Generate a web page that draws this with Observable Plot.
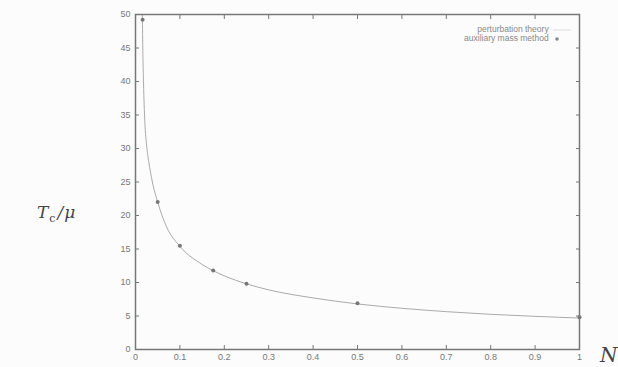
<!DOCTYPE html>
<html>
<head>
<meta charset="utf-8">
<script src="https://cdn.jsdelivr.net/npm/d3@7"></script>
<script src="https://cdn.jsdelivr.net/npm/@observablehq/plot@0.6"></script>
<style>
  html, body { margin: 0; padding: 0; background: #fcfcfc; }
  #wrap { position: relative; width: 618px; height: 367px; overflow: hidden; }
  .math { position: absolute; font-family: "DejaVu Serif", "Liberation Serif", serif; color: #444; white-space: nowrap; }
  #legend { position: absolute; font-family: "Liberation Sans", Arial, sans-serif; font-size: 8.5px; color: #888; text-align: right; line-height: 9px; }
</style>
</head>
<body>
<div id="wrap">
  <div id="chart"></div>
  <div class="math" id="ylab" style="left:37px; top:202px; font-size:17px; font-style:italic;">T<span style="font-style:normal;font-size:11px;position:relative;top:4px;margin-left:1px;">c</span><span style="margin-left:2px;">/</span><span style="margin-left:1px;">μ</span></div>
  <div class="math" id="xlab" style="left:600px; top:343px; font-size:20px; font-style:italic;">N</div>
  <div id="legend" style="left:395px; top:25px; width:178px;">
    <div>perturbation theory <svg width="22" height="6" style="vertical-align:middle"><line x1="2" y1="3" x2="20" y2="3" stroke="#ddd" stroke-width="1"/></svg></div>
    <div>auxiliary mass method <svg width="22" height="6" style="vertical-align:middle"><circle cx="6" cy="3" r="1.8" fill="#888"/></svg></div>
  </div>
</div>
<script>
// auxiliary mass method points
const amN = [0.016, 0.05, 0.1, 0.175, 0.25, 0.5, 1.0];
const amT = [49.2, 22.0, 15.5, 11.8, 9.8, 6.9, 4.8];

// perturbation theory curve
const ptN = [0.0155, 0.016, 0.018, 0.021, 0.025, 0.03, 0.038, 0.05, 0.07, 0.1, 0.15, 0.2, 0.25, 0.3, 0.4, 0.5, 0.6, 0.7, 0.8, 0.9, 1.0];
const ptT = [50, 47, 40, 34, 30.5, 28, 25, 22, 18.3, 15.4, 12.7, 11, 9.8, 8.9, 7.7, 6.8, 6.15, 5.65, 5.25, 4.95, 4.7];

const xTicks = [0, 0.1, 0.2, 0.3, 0.4, 0.5, 0.6, 0.7, 0.8, 0.9, 1];
const yTicks = [0, 5, 10, 15, 20, 25, 30, 35, 40, 45, 50];

const am = amN.map((n, i) => ({n, t: amT[i]}));
const pt = ptN.map((n, i) => ({n, t: ptT[i]}));

const grey = "#777";
const chart = Plot.plot({
  width: 618,
  height: 367,
  marginLeft: 135,
  marginRight: 39,
  marginTop: 14,
  marginBottom: 18,
  style: {background: "transparent", fontFamily: "Liberation Sans, Arial, sans-serif", fontSize: "9px", color: "#666"},
  x: {domain: [0, 1], label: null},
  y: {domain: [0, 50], label: null},
  marks: [
    Plot.axisX({anchor: "bottom", ticks: xTicks, tickFormat: d => String(d), tickSize: 0, tickPadding: 4, fill: "#777"}),
    Plot.axisX({anchor: "bottom", ticks: xTicks, text: null, tickSize: -4, stroke: grey}),
    Plot.axisX({anchor: "top", ticks: xTicks, text: null, tickSize: -4, stroke: grey}),
    Plot.axisY({anchor: "left", ticks: yTicks, tickSize: 0, tickPadding: 5, fill: "#777"}),
    Plot.axisY({anchor: "left", ticks: yTicks, text: null, tickSize: -4, stroke: grey}),
    Plot.axisY({anchor: "right", ticks: yTicks, text: null, tickSize: -4, stroke: grey}),
    Plot.line(pt, {x: "n", y: "t", stroke: "#aaa", strokeWidth: 1, curve: "monotone-x", clip: true}),
    Plot.dot(am, {x: "n", y: "t", r: 2, fill: "#777", stroke: "none"}),
    Plot.frame({stroke: grey, strokeWidth: 1.5})
  ]
});
document.getElementById("chart").appendChild(chart);
</script>
</body>
</html>
